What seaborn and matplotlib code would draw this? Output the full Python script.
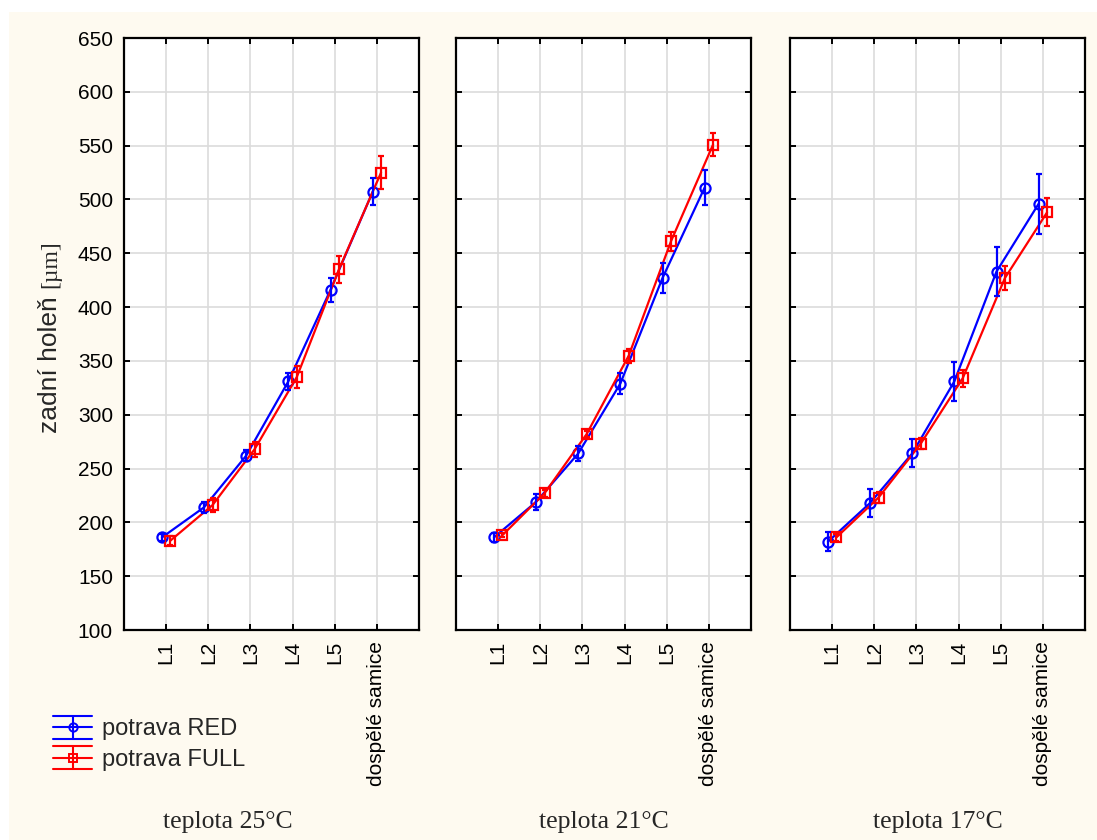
import numpy as np
import pandas as pd
import matplotlib
matplotlib.use("Agg")
import matplotlib.pyplot as plt
from matplotlib.patches import Rectangle
from matplotlib.lines import Line2D
from matplotlib.legend_handler import HandlerBase
import seaborn as sns

# ---- data: mean length of the hind tibia (µm) with error bar half-widths ----
stages = ["L1", "L2", "L3", "L4", "L5", "dospělé samice"]
temps = ["teplota 25°C", "teplota 21°C", "teplota 17°C"]
diets = ["potrava RED", "potrava FULL"]

red_25 = [186, 214, 262, 331, 416, 507]
red_25_err = [3, 5, 5, 8, 11, 12.5]
full_25 = [183, 216, 268, 335, 435, 525]
full_25_err = [4, 6.5, 7, 10, 12.5, 15]

red_21 = [186, 219, 264, 329, 427, 511]
red_21_err = [4, 7.5, 7, 10, 14, 16]
full_21 = [188, 227, 282, 355, 461, 551]
full_21_err = [2, 3, 3, 6.5, 9, 11]

red_17 = [182, 218, 264, 331, 433, 496]
red_17_err = [9, 13, 13, 18, 23, 28]
full_17 = [186, 223, 273, 334, 427, 488]
full_17_err = [3, 5, 5, 8, 11, 13]

series = {
    ("teplota 25°C", "potrava RED"): (red_25, red_25_err),
    ("teplota 25°C", "potrava FULL"): (full_25, full_25_err),
    ("teplota 21°C", "potrava RED"): (red_21, red_21_err),
    ("teplota 21°C", "potrava FULL"): (full_21, full_21_err),
    ("teplota 17°C", "potrava RED"): (red_17, red_17_err),
    ("teplota 17°C", "potrava FULL"): (full_17, full_17_err),
}

rows = []
for (t, d), (vals, errs) in series.items():
    for i, (s, v, e) in enumerate(zip(stages, vals, errs)):
        rows.append(dict(temp=t, diet=d, stage=s, idx=i, mean=v, err=e))
df = pd.DataFrame(rows)

colors = {"potrava RED": "#0000FF", "potrava FULL": "#FF0000"}
markers = {"potrava RED": "o", "potrava FULL": "s"}
offsets = {"potrava RED": -0.1, "potrava FULL": 0.1}
df["xpos"] = df["idx"] + df["diet"].map(offsets)

# ---- styling ----
sns.set_theme(style="white")
plt.rcParams["font.family"] = ["Liberation Sans", "DejaVu Sans"]
FS = 15

W, H = 1097, 840
fig = plt.figure(figsize=(W / 100, H / 100), dpi=100, facecolor="white")
fig.patches.append(Rectangle((9 / W, 0), 1 - 9 / W, 1 - 12 / H,
                             transform=fig.transFigure, facecolor="#FEFAF0",
                             edgecolor="none", zorder=-10))

lefts = [124, 456, 790]
ax_w = 295
top_px, bot_px = 38, 630

axes = []
for k, t in enumerate(temps):
    ax = fig.add_axes([lefts[k] / W, 1 - bot_px / H, ax_w / W, (bot_px - top_px) / H])
    ax.set_facecolor("white")
    sub = df[df["temp"] == t]
    for d in diets:
        s = sub[sub["diet"] == d]
        sns.lineplot(data=s, x="xpos", y="mean", ax=ax, color=colors[d],
                     marker=markers[d], markersize=7.3, markerfacecolor="none",
                     markeredgecolor=colors[d], markeredgewidth=1.6,
                     linewidth=1.6, errorbar=None, sort=True, zorder=3)
        ax.errorbar(s["xpos"], s["mean"], yerr=s["err"], fmt="none",
                    ecolor=colors[d], elinewidth=1.6, capsize=2.4,
                    capthick=1.6, zorder=4)
    ax.set_xlim(-1, 6)
    ax.set_ylim(100, 650)
    ax.set_yticks(np.arange(100, 651, 50))
    ax.set_xticks(range(len(stages)))
    ax.set_xticklabels(stages, rotation=90, fontsize=FS, va="top")
    ax.set_xlabel("")
    ax.set_ylabel("")
    ax.grid(True, color="#DCDCDC", linewidth=1.2, zorder=0)
    ax.set_axisbelow(True)
    for sp in ax.spines.values():
        sp.set_visible(True)
        sp.set_color("black")
        sp.set_linewidth(1.6)
    ax.tick_params(axis="both", direction="in", length=4, width=1.4,
                   colors="black", top=True, right=True, bottom=True, left=True,
                   labelsize=FS, pad=8)
    if k > 0:
        ax.tick_params(axis="y", labelleft=False)
    axes.append(ax)

# ---- panel captions below the axes ----
caption_x = [228, 604, 938]
for t, cx in zip(temps, caption_x):
    fig.text(cx / W, 1 - 822 / H, t, ha="center", va="center",
             family=["Liberation Serif", "DejaVu Serif"], fontsize=18.5)

# ---- y-axis title (sans words, serif unit) ----
fig.text(50 / W, 1 - 433 / H, "zadní holeň", rotation=90, ha="center",
         va="bottom", fontsize=19)
fig.text(51 / W, 1 - 240 / H, "[µm]", rotation=90, ha="center", va="top",
         family=["Liberation Serif", "DejaVu Serif"], fontsize=17)


# ---- legend with range-style keys ----
class HandlerRange(HandlerBase):
    def create_artists(self, legend, orig_handle, xdescent, ydescent,
                       width, height, fontsize, trans):
        c = orig_handle.get_color()
        m = orig_handle.get_marker()
        x0, x1 = -xdescent, -xdescent + width
        cx = (x0 + x1) / 2
        cy = -ydescent + height / 2
        h = height / 2
        arts = []
        for yy in (cy - h, cy, cy + h):
            arts.append(Line2D([x0, x1], [yy, yy], color=c, lw=1.5))
        arts.append(Line2D([cx, cx], [cy - h, cy + h], color=c, lw=1.5))
        arts.append(Line2D([cx], [cy], marker=m, markersize=6,
                           markerfacecolor="none", markeredgecolor=c,
                           markeredgewidth=1.4, linestyle="none"))
        for a in arts:
            a.set_transform(trans)
        return arts


handles = [Line2D([], [], color=colors[d], marker=markers[d]) for d in diets]
fig.legend(handles, diets, loc="upper left",
           bbox_to_anchor=(53 / W, 1 - 716 / H), frameon=False, fontsize=17,
           handlelength=1.67, handleheight=1.1, handletextpad=0.42,
           labelspacing=0.25, borderpad=0, borderaxespad=0,
           handler_map={Line2D: HandlerRange()})

fig.savefig("out.png", dpi=100, facecolor=fig.get_facecolor())
